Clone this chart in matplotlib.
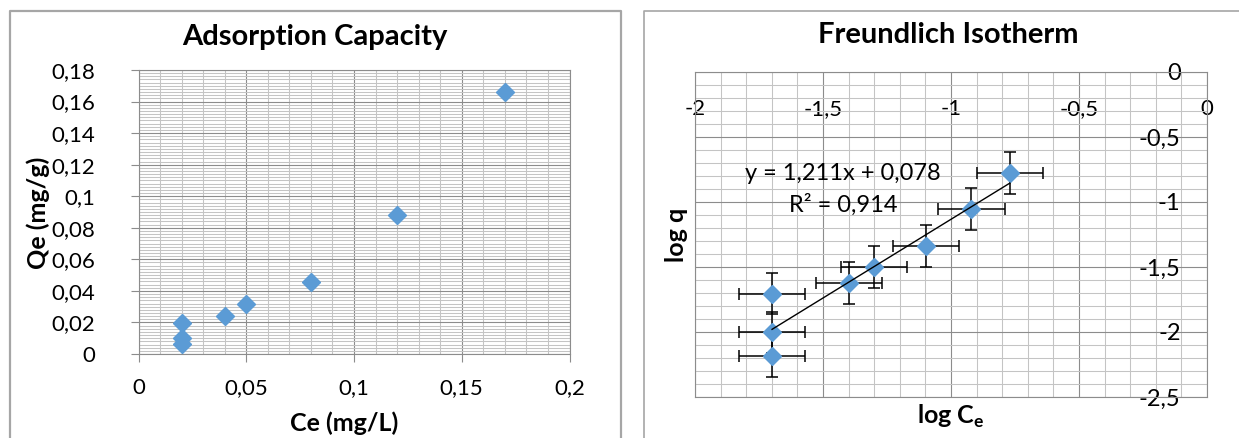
import matplotlib
matplotlib.use("Agg")
import matplotlib.pyplot as plt
from matplotlib.lines import Line2D
from matplotlib.ticker import MultipleLocator

plt.rcParams['font.family'] = ['Lato', 'DejaVu Sans']
plt.rcParams['mathtext.fontset'] = 'custom'
plt.rcParams['mathtext.rm'] = 'Lato'
plt.rcParams['mathtext.bf'] = 'Lato:bold'

# adsorption capacity
ce = [0.02, 0.02, 0.02, 0.04, 0.05, 0.08, 0.12, 0.17]
qe = [0.0195, 0.0101, 0.0063, 0.0240, 0.0317, 0.0457, 0.0881, 0.1662]

# freundlich isotherm
log_ce = [-1.699, -1.699, -1.699, -1.398, -1.301, -1.097, -0.921, -0.770]
log_q = [-1.705, -2.003, -2.185, -1.621, -1.498, -1.338, -1.056, -0.776]
x_err = 0.13
y_err = 0.16
slope = 1.211
intercept = 0.078

left_xticks = [0, 0.05, 0.1, 0.15, 0.2]
left_xlabels = ["0", "0,05", "0,1", "0,15", "0,2"]
left_yticks = [0, 0.02, 0.04, 0.06, 0.08, 0.1, 0.12, 0.14, 0.16, 0.18]
left_ylabels = ["0", "0,02", "0,04", "0,06", "0,08", "0,1", "0,12", "0,14", "0,16", "0,18"]
right_xticks = [-2, -1.5, -1, -0.5, 0]
right_xlabels = ["-2", "-1,5", "-1", "-0,5", "0"]
right_yticks = [0, -0.5, -1, -1.5, -2, -2.5]
right_ylabels = ["0", "-0,5", "-1", "-1,5", "-2", "-2,5"]

W, H = 1239, 438
BLUE = '#5B9BD5'
MAJOR = '#8c8c8c'
MINOR = '#c4c4c4'
TICK_FS = 16


def fx(px):
    return px / W


def fy(py):
    return 1 - py / H


fig = plt.figure(figsize=(W / 100, H / 100), dpi=100)

# panel borders
fig.add_artist(Line2D([fx(10), fx(10), fx(621), fx(621)], [0, fy(11), fy(11), 0],
                      transform=fig.transFigure, color='#a6a6a6', lw=1.6))
fig.add_artist(Line2D([fx(643.5), fx(643.5), 1.0], [0, fy(11), fy(11)],
                      transform=fig.transFigure, color='#a6a6a6', lw=1.2))

# ---- left: adsorption capacity ----
ax = fig.add_axes([fx(138.5), fy(354), 431 / W, 284 / H])
ax.set_xlim(0, 0.2)
ax.set_ylim(0, 0.18)
ax.set_xticks(left_xticks, left_xlabels)
ax.set_yticks(left_yticks, left_ylabels)
ax.xaxis.set_minor_locator(MultipleLocator(0.01))
ax.yaxis.set_minor_locator(MultipleLocator(0.002))
ax.set_axisbelow(True)
ax.grid(which='major', color=MAJOR, lw=0.8)
ax.grid(which='minor', color=MINOR, lw=0.75)
for s in ax.spines.values():
    s.set_color(MAJOR)
    s.set_linewidth(0.8)
ax.tick_params(axis='y', which='major', direction='out', length=6, width=0.8,
               color=MAJOR, labelsize=TICK_FS, pad=25)
ax.tick_params(axis='x', which='major', direction='out', length=6, width=0.8,
               color=MAJOR, labelsize=TICK_FS, pad=11)
ax.tick_params(which='minor', length=0)
ax.plot(ce, qe, 'D', ms=9.4, color=BLUE, mec=BLUE, clip_on=False, zorder=4)

fig.text(fx(315), fy(37), "Adsorption Capacity", ha='center', va='center',
         fontsize=21, fontweight='bold')
fig.text(fx(38), fy(213), "Qe (mg/g)", ha='center', va='center', rotation=90,
         fontsize=18, fontweight='bold')
fig.text(fx(344), fy(423), "Ce (mg/L)", ha='center', va='center',
         fontsize=18, fontweight='bold')

# ---- right: freundlich isotherm ----
ax2 = fig.add_axes([fx(695), fy(397), 512 / W, 325 / H])
ax2.set_xlim(-2, 0)
ax2.set_ylim(-2.5, 0)
ax2.set_xticks(right_xticks, right_xlabels)
ax2.set_yticks(right_yticks, right_ylabels)
ax2.xaxis.set_minor_locator(MultipleLocator(0.1))
ax2.yaxis.set_minor_locator(MultipleLocator(0.1))
ax2.set_axisbelow(True)
ax2.grid(which='major', color=MAJOR, lw=0.8)
ax2.grid(which='minor', color=MINOR, lw=0.75)
for s in ax2.spines.values():
    s.set_color(MAJOR)
    s.set_linewidth(0.8)
ax2.tick_params(axis='x', which='both', bottom=False, top=False, labelbottom=False,
                labeltop=True, length=0, pad=-34, labelsize=TICK_FS)
ax2.tick_params(axis='y', which='both', left=False, right=False, labelleft=False,
                labelright=True, length=0, pad=-19, labelsize=TICK_FS + 1)
for t in ax2.yaxis.get_major_ticks():
    t.label2.set_horizontalalignment('right')

ax2.errorbar(log_ce, log_q, xerr=x_err, yerr=y_err, fmt='none', ecolor='black',
             elinewidth=1.1, capsize=4, capthick=1.1, zorder=3)
ax2.plot(log_ce, log_q, 'D', ms=9.4, color=BLUE, mec=BLUE, zorder=4)
tx = [min(log_ce), max(log_ce)]
ax2.plot(tx, [slope * v + intercept for v in tx], color='black', lw=1.0, zorder=5)

ax2.text(-1.422, -0.777, "y = 1,211x + 0,078", ha='center', va='center', fontsize=17)
ax2.text(-1.422, -1.023, "R² = 0,914", ha='center', va='center', fontsize=17)

fig.text(fx(948), fy(35), "Freundlich Isotherm", ha='center', va='center',
         fontsize=21, fontweight='bold')
fig.text(fx(677), fy(235), "log q", ha='center', va='center', rotation=90,
         fontsize=18, fontweight='bold')
fig.text(fx(951), fy(416), r"log C$_{\mathbf{e}}$", ha='center', va='center',
         fontsize=18, fontweight='bold')

fig.savefig("out.png", dpi=100)
